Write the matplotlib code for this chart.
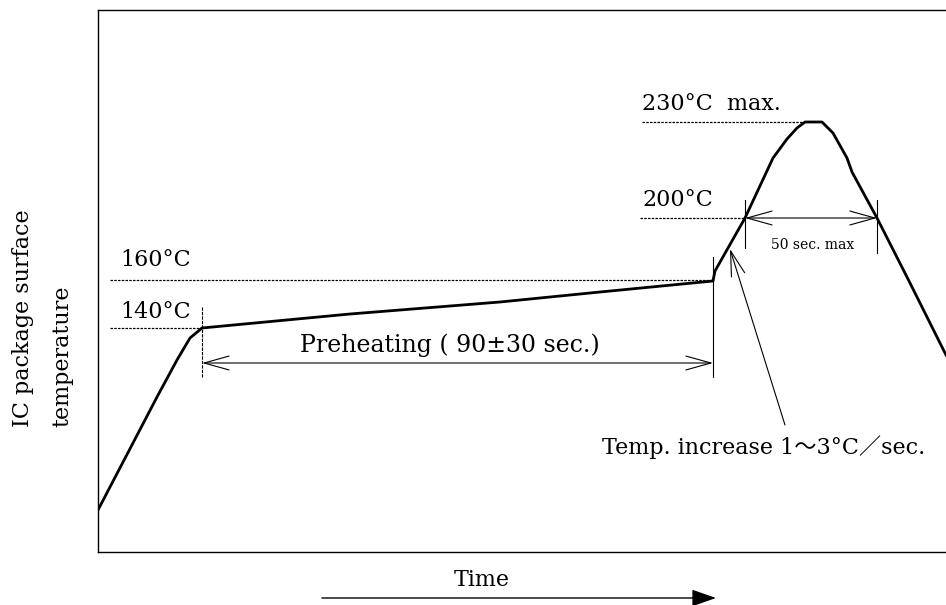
import matplotlib
matplotlib.use("Agg")
import matplotlib.pyplot as plt
import numpy as np

# schematic reflow profile, arbitrary time / level units
time = [0, 59, 79, 92, 104, 252, 402, 502, 615, 617, 630, 647, 675, 689,
        699, 707, 724, 735, 749, 754, 779, 812, 848]
level = [42, 155, 192, 214, 224, 238, 250, 260, 271, 281, 304, 334, 394, 413,
         424, 430, 430, 419, 394, 380, 334, 269, 197]

# reference levels: (label, level, dashed line start, dashed line end)
ref_labels = ["140°C", "160°C", "200°C", "230°C  max."]
ref_levels = [224, 272, 334, 430]
ref_start = [12, 12, 542, 544]
ref_end = [104, 615, 647, 707]
label_pos = [(22, 240), (22, 292), (544, 352), (544, 448)]

preheat_span = (104, 615)
preheat_y = 189
peak_span = (647, 779)
peak_y = 334

plt.rcParams['font.family'] = ['DejaVu Serif', 'Noto Sans CJK JP']

fig = plt.figure(figsize=(9.46, 6.05), dpi=100)
ax = fig.add_axes([98 / 946, 53 / 605, 850 / 946, 542 / 605])
ax.set_xlim(0, 850)
ax.set_ylim(0, 542)
ax.set_xticks([])
ax.set_yticks([])
ax.spines['right'].set_visible(False)
for s in ['left', 'top', 'bottom']:
    ax.spines[s].set_linewidth(1.0)

ax.plot(time, level, color='black', lw=2.0, solid_joinstyle='round')

for lab, lv, x0, x1, (tx, ty) in zip(ref_labels, ref_levels, ref_start, ref_end, label_pos):
    ax.plot([x0, x1], [lv, lv], color='black', lw=0.9, ls=(0, (2, 1)))
    ax.text(tx, ty, lab, fontsize=16, ha='left', va='center')

# vertical marker ticks
ax.plot([104, 104], [175, 246], color='black', lw=0.8, ls=(0, (3, 1)))
ax.plot([615, 615], [175, 295], color='black', lw=0.8)
ax.plot([647, 647], [304, 352], color='black', lw=0.8)
ax.plot([779, 779], [299, 352], color='black', lw=0.8)

arrow = dict(arrowstyle='<->,head_length=0.9,head_width=0.25', lw=0.8,
             color='black', mutation_scale=20, shrinkA=0, shrinkB=0)
ax.annotate('', xy=(preheat_span[0], preheat_y), xytext=(preheat_span[1], preheat_y),
            arrowprops=arrow)
ax.annotate('', xy=(peak_span[0], peak_y), xytext=(peak_span[1], peak_y),
            arrowprops=arrow)

ax.text(202, 207, "Preheating ( 90±30 sec.)", fontsize=17, ha='left', va='center')
ax.text(715, 307, "50 sec. max", fontsize=10, ha='center', va='center')

ax.annotate('', xy=(632, 303), xytext=(687, 127),
            arrowprops=dict(arrowstyle='->,head_length=0.9,head_width=0.25', lw=0.8,
                            color='black', mutation_scale=20, shrinkA=0, shrinkB=0))
ax.text(504, 105, "Temp. increase 1～3°C／sec.", fontsize=16, ha='left', va='center')

# axis captions
fig.text(23 / 946, 1 - 427 / 605, "IC package surface", rotation=90,
         fontsize=16, ha='center', va='bottom')
fig.text(62 / 946, 1 - 427 / 605, "temperature", rotation=90,
         fontsize=16, ha='center', va='bottom')
fig.text(482 / 946, 1 - 580 / 605, "Time", fontsize=16, ha='center', va='center')
ax.annotate('', xy=(716 / 946, 1 - 598 / 605), xytext=(322 / 946, 1 - 598 / 605),
            xycoords='figure fraction', textcoords='figure fraction',
            arrowprops=dict(arrowstyle='-|>,head_length=1.0,head_width=0.35', lw=1.0,
                            color='black', mutation_scale=15, shrinkA=0, shrinkB=0))

fig.savefig('out.png', dpi=100)
